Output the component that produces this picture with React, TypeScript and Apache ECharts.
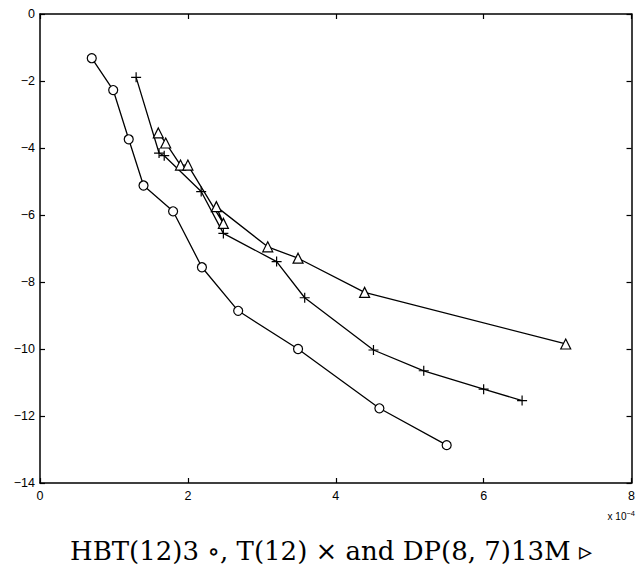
import React, { useEffect, useRef } from "react";
import * as echarts from "echarts";

// x values are in units of 1e-4
const hbtX = [0.70, 0.99, 1.20, 1.40, 1.80, 2.19, 2.68, 3.49, 4.59, 5.50];
const hbtY = [-1.32, -2.27, -3.74, -5.12, -5.89, -7.56, -8.86, -10.0, -11.77, -12.87];

const tX = [1.30, 1.61, 1.68, 2.18, 2.48, 3.20, 3.58, 4.51, 5.19, 6.00, 6.52];
const tY = [-1.89, -4.15, -4.23, -5.30, -6.55, -7.39, -8.47, -10.03, -10.65, -11.20, -11.54];

const dpX = [1.60, 1.70, 1.90, 2.00, 2.48, 2.385, 3.08, 3.49, 4.39, 7.11];
const dpY = [-3.55, -3.85, -4.51, -4.51, -6.25, -5.75, -6.95, -7.29, -8.31, -9.85];

const caption = "HBT(12)3 \u2218, T(12) \u00d7 and DP(8, 7)13M \u25b9";

const pair = (xs: number[], ys: number[]) => xs.map((x, i) => [x, ys[i]]);

const PLUS = "path://M5,0L5,10M0,5L10,5";

export default function App() {
  const ref = useRef<HTMLDivElement>(null);
  useEffect(() => {
    if (!ref.current) return;
    const chart = echarts.init(ref.current, null, { renderer: "svg" });
    const labelFont = { fontFamily: "Liberation Sans, Arial, sans-serif", fontSize: 12.5, color: "#000" };
    const tick = { show: true, inside: true, length: 5, lineStyle: { color: "#000", width: 1.2 } };
    const line = { show: true, onZero: false, lineStyle: { color: "#000", width: 1.5 } };
    const lineSeries = (name: string, xs: number[], ys: number[], symbol: string, size: number) => ({
      name,
      type: "line",
      data: pair(xs, ys),
      symbol,
      symbolSize: size,
      showSymbol: true,
      lineStyle: { color: "#000", width: 1.3 },
      itemStyle: { color: symbol === PLUS ? "none" : "#fff", borderColor: "#000", borderWidth: 1.2 },
      z: 3,
    });
    chart.setOption({
      animation: false,
      backgroundColor: "#fff",
      grid: { left: 40, top: 14, width: 596, height: 469, show: false },
      xAxis: [
        {
          type: "value", min: 0, max: 8, interval: 2, position: "bottom",
          axisLine: line,
          axisTick: tick,
          splitLine: { show: false },
          axisLabel: { ...labelFont, margin: 6 },
        },
        {
          type: "value", min: 0, max: 8, interval: 2, position: "top",
          axisLine: line,
          axisTick: tick,
          splitLine: { show: false },
          axisLabel: { show: false },
        },
      ],
      yAxis: [
        {
          type: "value", min: -14, max: 0, interval: 2, position: "left",
          axisLine: line,
          axisTick: tick,
          splitLine: { show: false },
          axisLabel: { ...labelFont, margin: 5, formatter: (v: number) => String(v).replace("-", "\u2212") },
        },
        {
          type: "value", min: -14, max: 0, interval: 2, position: "right",
          axisLine: line,
          axisTick: tick,
          splitLine: { show: false },
          axisLabel: { show: false },
        },
      ],
      series: [
        lineSeries("HBT(12)3", hbtX, hbtY, "circle", 9),
        lineSeries("T(12)", tX, tY, PLUS, 10),
        lineSeries("DP(8,7)13M", dpX, dpY, "triangle", 10),
      ],
      graphic: [
        {
          type: "text",
          right: 3,
          top: 509,
          style: {
            text: "{a|x 10}{b|\u22124}",
            rich: {
              a: { fontFamily: "Liberation Sans, Arial, sans-serif", fontSize: 10, fill: "#000" },
              b: { fontFamily: "Liberation Sans, Arial, sans-serif", fontSize: 7.5, fill: "#000", verticalAlign: "top", padding: [0, 0, 6, 0] },
            },
          },
        },
        {
          type: "text",
          x: 331,
          y: 538,
          style: {
            text: caption,
            align: "center",
            fontFamily: "DejaVu Serif, Liberation Serif, serif",
            fontSize: 26,
            fill: "#000",
          },
        },
      ],
    });
    return () => chart.dispose();
  }, []);
  return <div ref={ref} style={{ position: "absolute", left: 0, top: 0, width: 638, height: 574 }} />;
}
